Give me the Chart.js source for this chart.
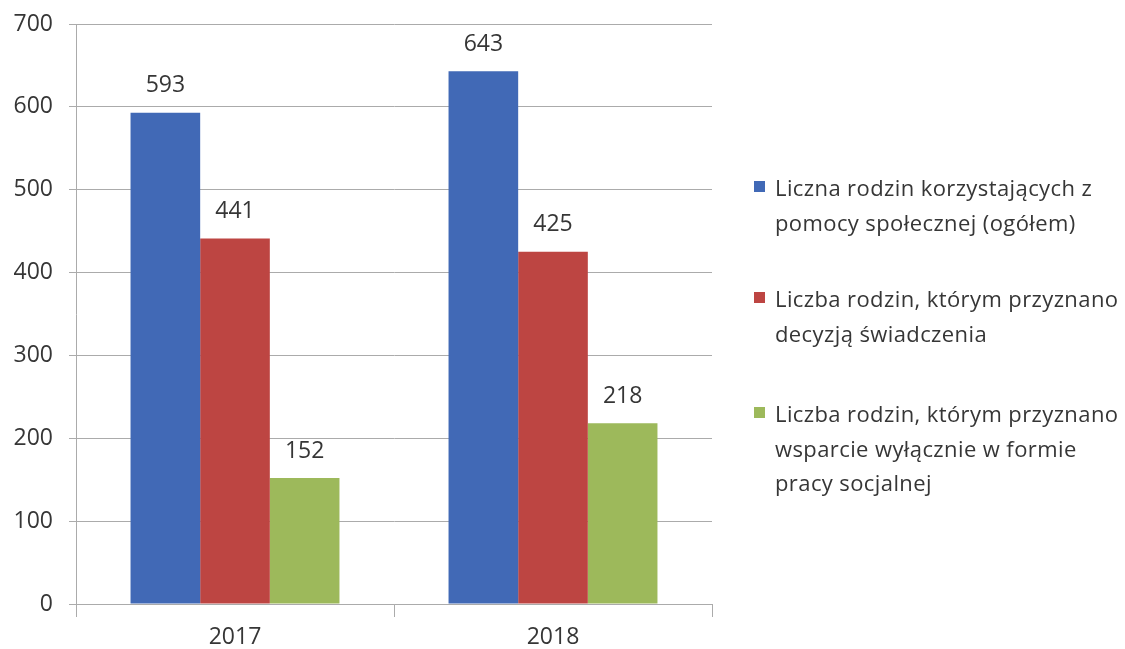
<!DOCTYPE html>
<html><head><meta charset="utf-8">
<script src="https://cdn.jsdelivr.net/npm/chart.js@4.4.0/dist/chart.umd.min.js"></script>
<style>
html,body{margin:0;padding:0;background:#fff;}
#wrap{position:relative;width:1125px;height:649px;}
#legend{position:absolute;left:754px;top:0;font-family:"Open Sans","Noto Sans",sans-serif;font-size:22px;letter-spacing:0.4px;color:#363636;}
.item{position:absolute;left:0;white-space:nowrap;}
.sw{position:absolute;left:0;width:11px;height:11px;}
.txt{position:absolute;left:21px;line-height:34.5px;}
</style></head>
<body>
<div id="wrap"><canvas id="c" width="1125" height="649"></canvas><div id="legend"></div></div>
<script>
const categories = ["2017", "2018"];
const seriesNames = [
  ["Liczna rodzin korzystających z", "pomocy społecznej (ogółem)"],
  ["Liczba rodzin, którym przyznano", "decyzją świadczenia"],
  ["Liczba rodzin, którym przyznano", "wsparcie wyłącznie w formie", "pracy socjalnej"]
];
const totalFamilies = [593, 643];
const decisionFamilies = [441, 425];
const socialWorkFamilies = [152, 218];
const yTicks = [0, 100, 200, 300, 400, 500, 600, 700];
const colors = ["#4169B6", "#BD4542", "#9DB95B"];

const FONT = '"Open Sans","Noto Sans",sans-serif';
const valueLabels = {
  id: 'valueLabels',
  afterDatasetsDraw(chart) {
    const ctx = chart.ctx;
    ctx.save();
    ctx.font = '23px ' + FONT;
    ctx.fillStyle = '#363636';
    ctx.textAlign = 'center';
    ctx.textBaseline = 'middle';
    chart.data.datasets.forEach((ds, i) => {
      chart.getDatasetMeta(i).data.forEach((bar, j) => {
        ctx.fillText(String(ds.data[j]), bar.x, bar.y - 27);
      });
    });
    ctx.restore();
  }
};

const gridColor = '#ababab';
new Chart(document.getElementById('c'), {
  type: 'bar',
  data: {
    labels: categories,
    datasets: [
      {label: seriesNames[0].join(' '), data: totalFamilies, backgroundColor: colors[0]},
      {label: seriesNames[1].join(' '), data: decisionFamilies, backgroundColor: colors[1]},
      {label: seriesNames[2].join(' '), data: socialWorkFamilies, backgroundColor: colors[2]}
    ]
  },
  options: {
    responsive: false,
    animation: false,
    layout: {padding: {left: 0, right: 413, top: 24, bottom: 0}},
    plugins: {legend: {display: false}, tooltip: {enabled: false}},
    datasets: {bar: {barPercentage: 1, categoryPercentage: 0.657}},
    scales: {
      x: {
        grid: {drawOnChartArea: false, drawTicks: true, tickLength: 13, color: gridColor, offset: true},
        border: {color: gridColor, width: 1},
        ticks: {font: {size: 23, family: FONT}, color: '#363636', padding: 7},
        afterFit(s) { s.height = 45; s.paddingLeft = 0; s.paddingRight = 0; }
      },
      y: {
        min: 0, max: 700,
        afterBuildTicks(s) { s.ticks = yTicks.map(v => ({value: v})); },
        grid: {color: gridColor, tickLength: 7},
        border: {color: gridColor, width: 1},
        ticks: {font: {size: 23, family: FONT}, color: '#363636', padding: 16},
        afterFit(s) { s.width = 76; s.paddingTop = 0; s.paddingBottom = 0; }
      }
    }
  },
  plugins: [valueLabels]
});

const legendTops = [170, 281, 396];
const lg = document.getElementById('legend');
seriesNames.forEach((lines, i) => {
  const it = document.createElement('div');
  it.className = 'item';
  it.style.top = legendTops[i] + 'px';
  const sw = document.createElement('div');
  sw.className = 'sw'; sw.style.background = colors[i]; sw.style.top = '11px';
  const tx = document.createElement('div');
  tx.className = 'txt';
  tx.innerHTML = lines.join('<br>');
  it.appendChild(sw); it.appendChild(tx);
  lg.appendChild(it);
});
</script>
</body></html>
